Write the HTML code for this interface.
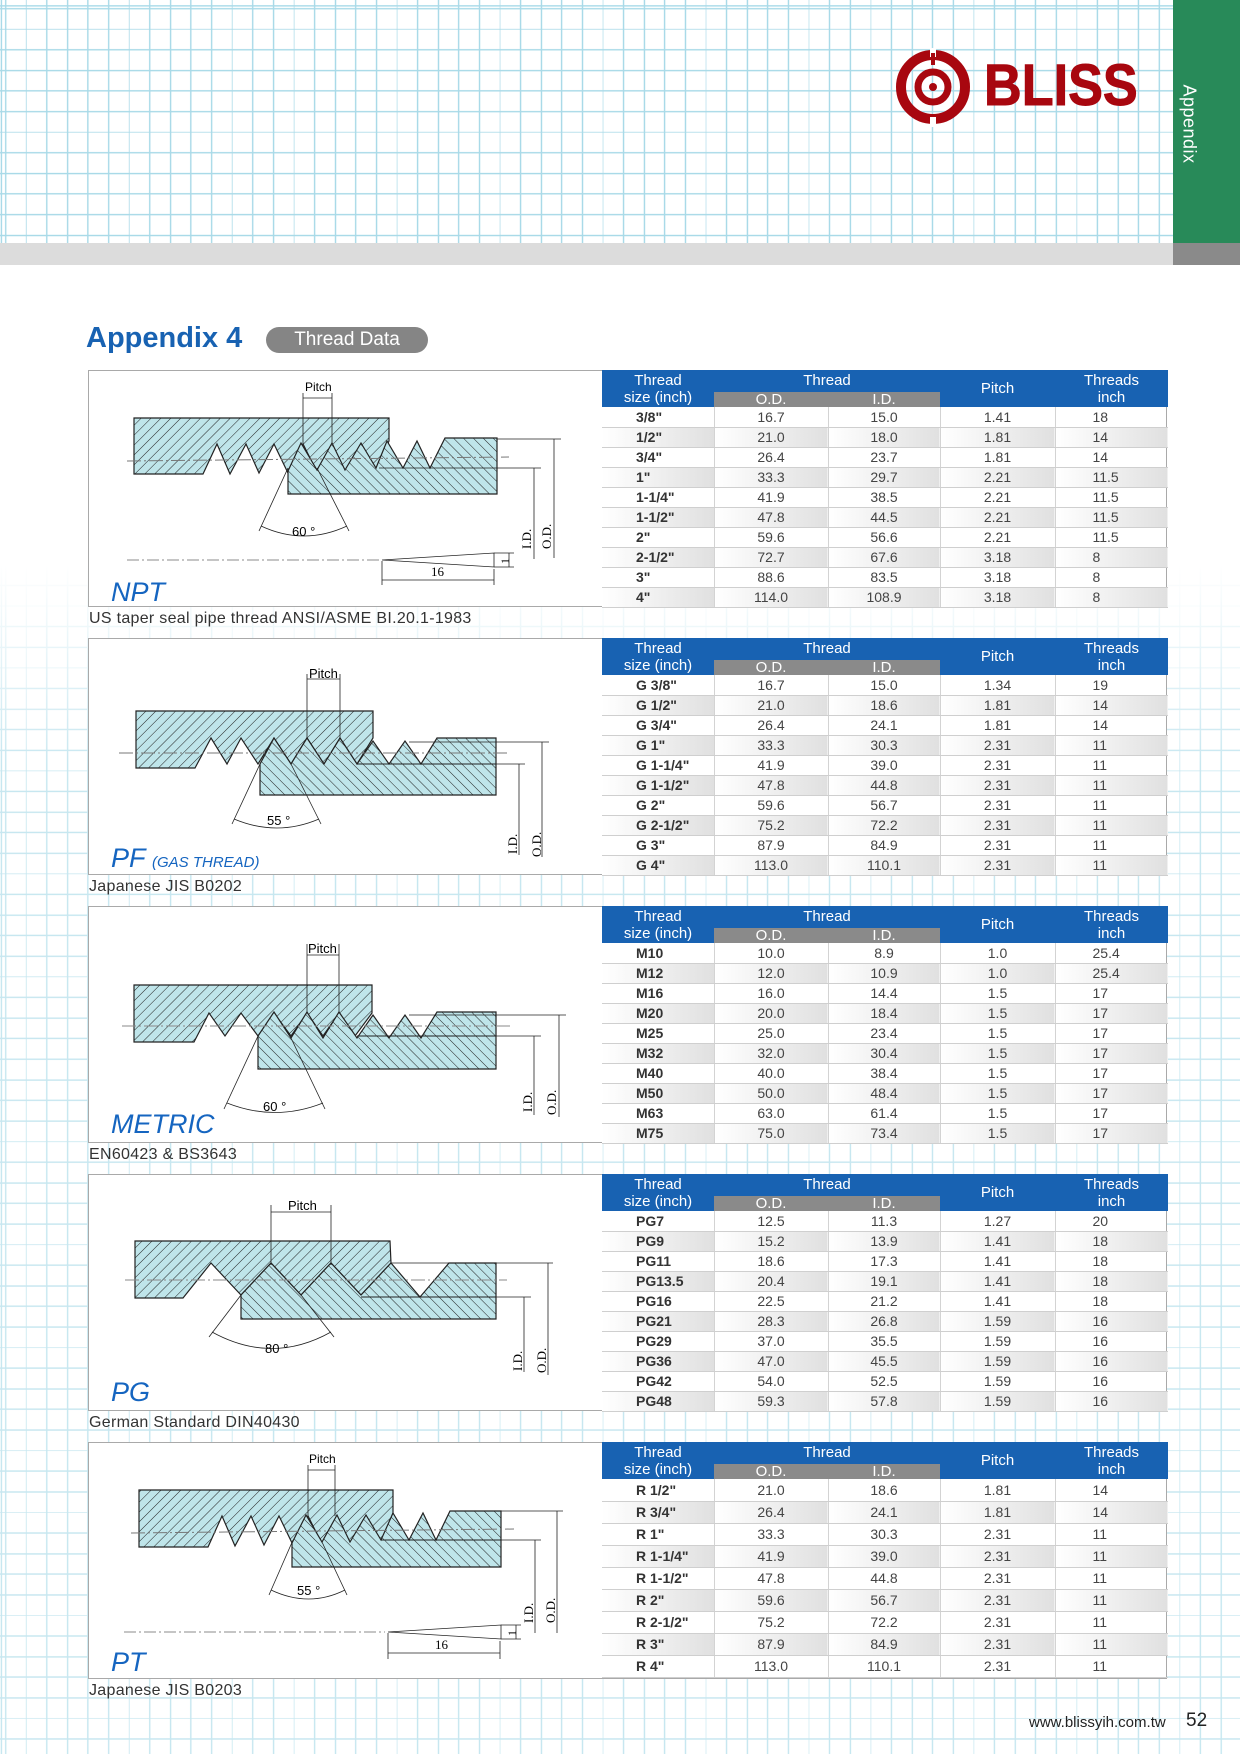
<!DOCTYPE html>
<html><head><meta charset="utf-8">
<style>
*{margin:0;padding:0;box-sizing:border-box}
body{width:1240px;height:1754px;position:relative;background:#fff;font-family:"Liberation Sans",Arial,sans-serif;overflow:hidden}
.grid{position:absolute;left:0;top:0;width:1240px;height:1754px;
background-image:repeating-linear-gradient(to right,#a9dae8 0 1.3px,transparent 1.3px 20.6px),repeating-linear-gradient(to bottom,#a9dae8 0 1.3px,transparent 1.3px 20.6px);background-position:5px 8px}
.fade{position:absolute;left:0;top:265px;width:1240px;height:500px;background:linear-gradient(to bottom,#fff 0,#fff 300px,rgba(255,255,255,0.35) 500px)}
.fade2{position:absolute;left:0;top:765px;width:1240px;height:989px;background:rgba(255,255,255,0.35)}
.box{position:absolute;left:88px;width:1079px;height:237px;background:#fff;border:1px solid #a9a9a9}
.box svg{position:absolute;left:0;top:0}
.cap{position:absolute;left:89px;font-size:16px;color:#333;letter-spacing:0.3px}
table{position:absolute;left:513px;top:-1px;border-collapse:collapse;table-layout:fixed;width:566px}
td,th{font-weight:normal;text-align:center;padding:0;overflow:hidden;white-space:nowrap}
th{background:#1862b2;color:#fff;font-size:15px;line-height:17px}
th.s{background:#8a8a8a;font-size:15px;line-height:15px;height:15px}
td{font-size:14px;color:#444;height:20px;border-bottom:1px solid #cfcfcf;border-left:1px solid #d3d3d3}
td:first-child{text-align:left;padding-left:34px;font-weight:bold;border-left:none;color:#333}
td:last-child{text-align:left;padding-left:37px}
tr.g td{background:linear-gradient(to right,#fff,#e0e0e0)}
.pt td{height:22px}
.lbl{font-style:italic;fill:#1565c0;font-size:27px}
</style></head><body>
<div class="grid"></div>
<div class="fade"></div>
<div class="fade2"></div>
<div style="position:absolute;left:0;top:243px;width:1173px;height:22px;background:#dcdcdc"></div>
<div style="position:absolute;left:1173px;top:0;width:67px;height:243px;background:#288a59"></div>
<div style="position:absolute;left:1173px;top:243px;width:67px;height:22px;background:#8a8a8a"></div>
<div style="position:absolute;left:1141px;top:113px;width:95px;height:22px;color:#fff;font-size:18px;transform:rotate(90deg);text-align:center;letter-spacing:0.5px">Appendix</div>
<svg style="position:absolute;left:890px;top:45px" width="90" height="85">
<circle cx="43" cy="42" r="32" fill="none" stroke="#a8070f" stroke-width="10"/>
<circle cx="43" cy="42" r="15" fill="none" stroke="#a8070f" stroke-width="7"/>
<circle cx="43" cy="42" r="4" fill="#a8070f"/>
<rect x="40" y="3" width="6" height="9" fill="#fff"/><rect x="41" y="8" width="4" height="12" fill="#a8070f"/>
<rect x="40" y="72" width="6" height="10" fill="#fff"/>
</svg>
<div style="position:absolute;left:984px;top:54px;font-size:58px;font-weight:900;color:#a8070f;transform:scaleX(0.9);transform-origin:left top;line-height:64px;-webkit-text-stroke:1px #a8070f">BLISS</div>
<div style="position:absolute;left:86px;top:322px;font-size:29px;font-weight:bold;color:#1862b2">Appendix 4</div>
<div style="position:absolute;left:266px;top:327px;width:162px;height:26px;border-radius:13px;background:#858585;color:#fff;font-size:19px;text-align:center;line-height:26px">Thread Data</div>

<svg width="0" height="0" style="position:absolute"><defs>
<pattern id="ha" width="7" height="7" patternUnits="userSpaceOnUse" patternTransform="rotate(45)"><rect width="7" height="7" fill="#bfe5ea"/><line x1="0" y1="0" x2="0" y2="7" stroke="#222" stroke-width="1"/></pattern>
<pattern id="hb" width="7" height="7" patternUnits="userSpaceOnUse" patternTransform="rotate(-45)"><rect width="7" height="7" fill="#bfe5ea"/><line x1="0" y1="0" x2="0" y2="7" stroke="#222" stroke-width="1"/></pattern>
</defs></svg>

<div class="box" style="top:370px">
<svg width="513" height="237" font-family="Liberation Sans,sans-serif">
<polygon points="45,47 300,47 300,70 287,100 272,73 256,101 243,73 228,101 214,73 199,102 185,73 170,102 157,73 141,103 128,73 114,103 45,103" fill="url(#ha)" stroke="#222" stroke-width="1.2"/>
<polygon points="199,123 408,123 408,67 356,67 341,97 328,70 314,97 298,70 287,97 272,72 256,99 243,72 228,99 212,72 199,100" fill="url(#hb)" stroke="#222" stroke-width="1.2"/>
<line x1="38" y1="90" x2="420" y2="86" stroke="#777" stroke-dasharray="14,3,2,3"/>
<g stroke="#222" stroke-width="0.8" fill="none">
<line x1="214" y1="22" x2="214" y2="73"/><line x1="243" y1="22" x2="243" y2="73"/><line x1="214" y1="27" x2="243" y2="27"/>
<line x1="199" y1="97" x2="170" y2="160"/><line x1="228" y1="97" x2="260" y2="160"/>
<path d="M172,155 Q215,175 258,155"/>
<line x1="408" y1="68" x2="472" y2="68"/><line x1="465" y1="68" x2="465" y2="187"/>
<line x1="290" y1="97" x2="452" y2="97"/><line x1="445" y1="97" x2="445" y2="188"/>
<line x1="38" y1="189" x2="290" y2="189" stroke-dasharray="12,3,2,3" stroke="#666"/>
<polyline points="293,189 405,182 405,196 293,189"/>
<line x1="405" y1="182" x2="425" y2="182"/><line x1="405" y1="196" x2="425" y2="196"/><line x1="420" y1="182" x2="420" y2="196"/>
<line x1="293" y1="190" x2="293" y2="214"/><line x1="405" y1="198" x2="405" y2="214"/><line x1="293" y1="209" x2="405" y2="209"/>
</g>
<text x="216" y="20" font-size="12">Pitch</text>
<text x="203" y="165" font-size="13">60 °</text>
<text x="342" y="205" font-size="13" font-family="Liberation Serif,serif">16</text>
<text transform="translate(442,178) rotate(-90)" font-size="13" font-family="Liberation Serif,serif">I.D.</text>
<text transform="translate(462,178) rotate(-90)" font-size="13" font-family="Liberation Serif,serif">O.D.</text>
<text transform="translate(420,193) rotate(-90)" font-size="12" font-family="Liberation Serif,serif">1</text>
<text x="22" y="230" class="lbl">NPT</text>
</svg>
<table><colgroup><col style="width:112px"><col style="width:114px"><col style="width:112px"><col style="width:115px"><col style="width:113px"></colgroup>
<tr><th rowspan="2" style="height:37px;line-height:17px">Thread<br>size (inch)</th><th colspan="2" style="height:21px">Thread</th><th rowspan="2">Pitch</th><th rowspan="2">Threads<br>inch</th></tr>
<tr><th class="s">O.D.</th><th class="s">I.D.</th></tr>
<tr><td>3/8"</td><td>16.7</td><td>15.0</td><td>1.41</td><td>18</td></tr>
<tr class="g"><td>1/2"</td><td>21.0</td><td>18.0</td><td>1.81</td><td>14</td></tr>
<tr><td>3/4"</td><td>26.4</td><td>23.7</td><td>1.81</td><td>14</td></tr>
<tr class="g"><td>1"</td><td>33.3</td><td>29.7</td><td>2.21</td><td>11.5</td></tr>
<tr><td>1-1/4"</td><td>41.9</td><td>38.5</td><td>2.21</td><td>11.5</td></tr>
<tr class="g"><td>1-1/2"</td><td>47.8</td><td>44.5</td><td>2.21</td><td>11.5</td></tr>
<tr><td>2"</td><td>59.6</td><td>56.6</td><td>2.21</td><td>11.5</td></tr>
<tr class="g"><td>2-1/2"</td><td>72.7</td><td>67.6</td><td>3.18</td><td>8</td></tr>
<tr><td>3"</td><td>88.6</td><td>83.5</td><td>3.18</td><td>8</td></tr>
<tr class="g"><td>4"</td><td>114.0</td><td>108.9</td><td>3.18</td><td>8</td></tr>
</table></div>
<div class="cap" style="top:610px">US taper seal pipe thread ANSI/ASME BI.20.1-1983</div>

<div class="box" style="top:638px">
<svg width="513" height="237" font-family="Liberation Sans,sans-serif">
<polygon points="47,72 284,72 284,99 268,125 251,99 235,125 218,99 202,125 185,99 169,125 152,99 138,125 122,99 106,129 47,129" fill="url(#ha)" stroke="#222" stroke-width="1.2"/>
<polygon points="171,156 407,156 407,99 348,99 332,125 316,102 300,125 284,102 268,125 251,99 235,125 218,99 202,125 185,99 171,125" fill="url(#hb)" stroke="#222" stroke-width="1.2"/>
<line x1="268" y1="125" x2="407" y2="125" stroke="#222"/>
<line x1="30" y1="114" x2="420" y2="114" stroke="#777" stroke-dasharray="14,3,2,3"/>
<g stroke="#222" stroke-width="0.8" fill="none">
<line x1="218" y1="35" x2="218" y2="100"/><line x1="251" y1="35" x2="251" y2="100"/><line x1="218" y1="40" x2="251" y2="40"/>
<line x1="171" y1="125" x2="143" y2="185"/><line x1="202" y1="125" x2="232" y2="185"/>
<path d="M145,180 Q188,198 230,180"/>
<line x1="320" y1="103" x2="460" y2="103"/><line x1="453" y1="103" x2="453" y2="218"/>
<line x1="320" y1="125" x2="436" y2="125"/><line x1="430" y1="125" x2="430" y2="216"/>
</g>
<text x="220" y="39" font-size="13">Pitch</text>
<text x="178" y="186" font-size="13">55 °</text>
<text transform="translate(428,215) rotate(-90)" font-size="13" font-family="Liberation Serif,serif">I.D.</text>
<text transform="translate(452,218) rotate(-90)" font-size="13" font-family="Liberation Serif,serif">O.D.</text>
<text x="22" y="228" class="lbl">PF</text><text x="63" y="228" font-size="15" font-style="italic" fill="#1565c0">(GAS THREAD)</text>
</svg>
<table><colgroup><col style="width:112px"><col style="width:114px"><col style="width:112px"><col style="width:115px"><col style="width:113px"></colgroup>
<tr><th rowspan="2" style="height:37px">Thread<br>size (inch)</th><th colspan="2" style="height:21px">Thread</th><th rowspan="2">Pitch</th><th rowspan="2">Threads<br>inch</th></tr>
<tr><th class="s">O.D.</th><th class="s">I.D.</th></tr>
<tr><td>G 3/8"</td><td>16.7</td><td>15.0</td><td>1.34</td><td>19</td></tr>
<tr class="g"><td>G 1/2"</td><td>21.0</td><td>18.6</td><td>1.81</td><td>14</td></tr>
<tr><td>G 3/4"</td><td>26.4</td><td>24.1</td><td>1.81</td><td>14</td></tr>
<tr class="g"><td>G 1"</td><td>33.3</td><td>30.3</td><td>2.31</td><td>11</td></tr>
<tr><td>G 1-1/4"</td><td>41.9</td><td>39.0</td><td>2.31</td><td>11</td></tr>
<tr class="g"><td>G 1-1/2"</td><td>47.8</td><td>44.8</td><td>2.31</td><td>11</td></tr>
<tr><td>G 2"</td><td>59.6</td><td>56.7</td><td>2.31</td><td>11</td></tr>
<tr class="g"><td>G 2-1/2"</td><td>75.2</td><td>72.2</td><td>2.31</td><td>11</td></tr>
<tr><td>G 3"</td><td>87.9</td><td>84.9</td><td>2.31</td><td>11</td></tr>
<tr class="g"><td>G 4"</td><td>113.0</td><td>110.1</td><td>2.31</td><td>11</td></tr>
</table></div>
<div class="cap" style="top:878px">Japanese JIS B0202</div>

<div class="box" style="top:906px">
<svg width="513" height="237" font-family="Liberation Sans,sans-serif">
<polygon points="45,78 283,78 283,106 266,129 250,106 234,129 218,106 202,129 185,106 169,129 152,106 136,129 120,106 105,135 45,135" fill="url(#ha)" stroke="#222" stroke-width="1.2"/>
<polygon points="169,162 407,162 407,105 348,105 332,131 316,108 300,131 284,108 268,131 250,105 234,131 218,105 202,131 185,105 169,129" fill="url(#hb)" stroke="#222" stroke-width="1.2"/>
<line x1="268" y1="129" x2="407" y2="129" stroke="#222"/>
<line x1="33" y1="119" x2="422" y2="119" stroke="#888" stroke-dasharray="14,3,2,3"/>
<g stroke="#222" stroke-width="0.8" fill="none">
<line x1="218" y1="37" x2="218" y2="106"/><line x1="250" y1="37" x2="250" y2="106"/><line x1="218" y1="48" x2="250" y2="48"/>
<line x1="169" y1="129" x2="135" y2="202"/><line x1="202" y1="131" x2="236" y2="202"/>
<path d="M138,196 Q186,215 234,196"/>
<line x1="320" y1="108" x2="477" y2="108"/><line x1="470" y1="108" x2="470" y2="210"/>
<line x1="320" y1="129" x2="452" y2="129"/><line x1="445" y1="129" x2="445" y2="208"/>
</g>
<text x="219" y="46" font-size="13">Pitch</text>
<text x="174" y="204" font-size="13">60 °</text>
<text transform="translate(443,205) rotate(-90)" font-size="13" font-family="Liberation Serif,serif">I.D.</text>
<text transform="translate(467,208) rotate(-90)" font-size="13" font-family="Liberation Serif,serif">O.D.</text>
<text x="22" y="226" class="lbl">METRIC</text>
</svg>
<table><colgroup><col style="width:112px"><col style="width:114px"><col style="width:112px"><col style="width:115px"><col style="width:113px"></colgroup>
<tr><th rowspan="2" style="height:37px">Thread<br>size (inch)</th><th colspan="2" style="height:21px">Thread</th><th rowspan="2">Pitch</th><th rowspan="2">Threads<br>inch</th></tr>
<tr><th class="s">O.D.</th><th class="s">I.D.</th></tr>
<tr><td>M10</td><td>10.0</td><td>8.9</td><td>1.0</td><td>25.4</td></tr>
<tr class="g"><td>M12</td><td>12.0</td><td>10.9</td><td>1.0</td><td>25.4</td></tr>
<tr><td>M16</td><td>16.0</td><td>14.4</td><td>1.5</td><td>17</td></tr>
<tr class="g"><td>M20</td><td>20.0</td><td>18.4</td><td>1.5</td><td>17</td></tr>
<tr><td>M25</td><td>25.0</td><td>23.4</td><td>1.5</td><td>17</td></tr>
<tr class="g"><td>M32</td><td>32.0</td><td>30.4</td><td>1.5</td><td>17</td></tr>
<tr><td>M40</td><td>40.0</td><td>38.4</td><td>1.5</td><td>17</td></tr>
<tr class="g"><td>M50</td><td>50.0</td><td>48.4</td><td>1.5</td><td>17</td></tr>
<tr><td>M63</td><td>63.0</td><td>61.4</td><td>1.5</td><td>17</td></tr>
<tr class="g"><td>M75</td><td>75.0</td><td>73.4</td><td>1.5</td><td>17</td></tr>
</table></div>
<div class="cap" style="top:1146px">EN60423 &amp; BS3643</div>

<div class="box" style="top:1174px">
<svg width="513" height="237" font-family="Liberation Sans,sans-serif">
<polygon points="46,66 301,66 302,88 272,120 242,88 212,120 182,88 152,120 122,88 94,123 46,123" fill="url(#ha)" stroke="#222" stroke-width="1.2"/>
<polygon points="152,144 407,144 407,88 360,88 331,122 302,88 272,120 242,88 212,120 182,88 152,120" fill="url(#hb)" stroke="#222" stroke-width="1.2"/>
<line x1="272" y1="122" x2="407" y2="122" stroke="#222"/>
<line x1="36" y1="105" x2="418" y2="105" stroke="#888" stroke-dasharray="14,3,2,3"/>
<g stroke="#222" stroke-width="0.8" fill="none">
<line x1="182" y1="30" x2="182" y2="90"/><line x1="242" y1="30" x2="242" y2="90"/><line x1="182" y1="37" x2="242" y2="37"/>
<line x1="152" y1="120" x2="120" y2="162"/><line x1="212" y1="120" x2="245" y2="162"/>
<path d="M123,157 Q183,190 242,157"/>
<line x1="302" y1="88" x2="464" y2="88"/><line x1="459" y1="88" x2="459" y2="200"/>
<line x1="302" y1="122" x2="442" y2="122"/><line x1="435" y1="122" x2="435" y2="197"/>
</g>
<text x="199" y="35" font-size="13">Pitch</text>
<text x="176" y="178" font-size="13">80 °</text>
<text transform="translate(433,196) rotate(-90)" font-size="13" font-family="Liberation Serif,serif">I.D.</text>
<text transform="translate(457,198) rotate(-90)" font-size="13" font-family="Liberation Serif,serif">O.D.</text>
<text x="22" y="226" class="lbl">PG</text>
</svg>
<table><colgroup><col style="width:112px"><col style="width:114px"><col style="width:112px"><col style="width:115px"><col style="width:113px"></colgroup>
<tr><th rowspan="2" style="height:37px">Thread<br>size (inch)</th><th colspan="2" style="height:21px">Thread</th><th rowspan="2">Pitch</th><th rowspan="2">Threads<br>inch</th></tr>
<tr><th class="s">O.D.</th><th class="s">I.D.</th></tr>
<tr><td>PG7</td><td>12.5</td><td>11.3</td><td>1.27</td><td>20</td></tr>
<tr class="g"><td>PG9</td><td>15.2</td><td>13.9</td><td>1.41</td><td>18</td></tr>
<tr><td>PG11</td><td>18.6</td><td>17.3</td><td>1.41</td><td>18</td></tr>
<tr class="g"><td>PG13.5</td><td>20.4</td><td>19.1</td><td>1.41</td><td>18</td></tr>
<tr><td>PG16</td><td>22.5</td><td>21.2</td><td>1.41</td><td>18</td></tr>
<tr class="g"><td>PG21</td><td>28.3</td><td>26.8</td><td>1.59</td><td>16</td></tr>
<tr><td>PG29</td><td>37.0</td><td>35.5</td><td>1.59</td><td>16</td></tr>
<tr class="g"><td>PG36</td><td>47.0</td><td>45.5</td><td>1.59</td><td>16</td></tr>
<tr><td>PG42</td><td>54.0</td><td>52.5</td><td>1.59</td><td>16</td></tr>
<tr class="g"><td>PG48</td><td>59.3</td><td>57.8</td><td>1.59</td><td>16</td></tr>
</table></div>
<div class="cap" style="top:1414px">German Standard DIN40430</div>

<div class="box pt" style="top:1442px">
<svg width="513" height="237" font-family="Liberation Sans,sans-serif">
<polygon points="50,47 304,47 304,70 292,100 277,73 261,101 248,73 233,101 219,73 204,102 190,73 175,102 162,73 146,103 133,73 119,104 50,104" fill="url(#ha)" stroke="#222" stroke-width="1.2"/>
<polygon points="203,124 412,124 412,68 361,68 347,97 334,70 320,97 304,70 292,97 277,72 261,99 248,72 233,99 217,72 203,100" fill="url(#hb)" stroke="#222" stroke-width="1.2"/>
<line x1="292" y1="97" x2="412" y2="97" stroke="#222"/>
<line x1="42" y1="90" x2="425" y2="86" stroke="#777" stroke-dasharray="14,3,2,3"/>
<g stroke="#222" stroke-width="0.8" fill="none">
<line x1="219" y1="22" x2="219" y2="73"/><line x1="246" y1="22" x2="246" y2="73"/><line x1="219" y1="27" x2="246" y2="27"/>
<line x1="204" y1="97" x2="180" y2="152"/><line x1="233" y1="99" x2="258" y2="152"/>
<path d="M182,147 Q220,165 256,147"/>
<line x1="412" y1="68" x2="474" y2="68"/><line x1="468" y1="68" x2="468" y2="190"/>
<line x1="300" y1="97" x2="452" y2="97"/><line x1="446" y1="97" x2="446" y2="190"/>
<line x1="35" y1="189" x2="296" y2="189" stroke-dasharray="12,3,2,3" stroke="#666"/>
<polyline points="299,189 412,182 412,196 299,189"/>
<line x1="412" y1="182" x2="432" y2="182"/><line x1="412" y1="196" x2="432" y2="196"/><line x1="427" y1="182" x2="427" y2="196"/>
<line x1="299" y1="190" x2="299" y2="216"/><line x1="411" y1="198" x2="411" y2="216"/><line x1="299" y1="210" x2="411" y2="210"/>
</g>
<text x="220" y="20" font-size="12">Pitch</text>
<text x="208" y="152" font-size="13">55 °</text>
<text x="346" y="206" font-size="13" font-family="Liberation Serif,serif">16</text>
<text transform="translate(444,180) rotate(-90)" font-size="13" font-family="Liberation Serif,serif">I.D.</text>
<text transform="translate(466,180) rotate(-90)" font-size="13" font-family="Liberation Serif,serif">O.D.</text>
<text transform="translate(427,193) rotate(-90)" font-size="12" font-family="Liberation Serif,serif">1</text>
<text x="22" y="228" class="lbl">PT</text>
</svg>
<table><colgroup><col style="width:112px"><col style="width:114px"><col style="width:112px"><col style="width:115px"><col style="width:113px"></colgroup>
<tr><th rowspan="2" style="height:37px">Thread<br>size (inch)</th><th colspan="2" style="height:21px">Thread</th><th rowspan="2">Pitch</th><th rowspan="2">Threads<br>inch</th></tr>
<tr><th class="s">O.D.</th><th class="s">I.D.</th></tr>
<tr><td>R 1/2"</td><td>21.0</td><td>18.6</td><td>1.81</td><td>14</td></tr>
<tr class="g"><td>R 3/4"</td><td>26.4</td><td>24.1</td><td>1.81</td><td>14</td></tr>
<tr><td>R 1"</td><td>33.3</td><td>30.3</td><td>2.31</td><td>11</td></tr>
<tr class="g"><td>R 1-1/4"</td><td>41.9</td><td>39.0</td><td>2.31</td><td>11</td></tr>
<tr><td>R 1-1/2"</td><td>47.8</td><td>44.8</td><td>2.31</td><td>11</td></tr>
<tr class="g"><td>R 2"</td><td>59.6</td><td>56.7</td><td>2.31</td><td>11</td></tr>
<tr><td>R 2-1/2"</td><td>75.2</td><td>72.2</td><td>2.31</td><td>11</td></tr>
<tr class="g"><td>R 3"</td><td>87.9</td><td>84.9</td><td>2.31</td><td>11</td></tr>
<tr><td>R 4"</td><td>113.0</td><td>110.1</td><td>2.31</td><td>11</td></tr>
</table></div>
<div class="cap" style="top:1682px">Japanese JIS B0203</div>

<div style="position:absolute;left:1029px;top:1714px;font-size:15px;color:#222">www.blissyih.com.tw</div>
<div style="position:absolute;left:1186px;top:1710px;font-size:19px;color:#222">52</div>
</body></html>
